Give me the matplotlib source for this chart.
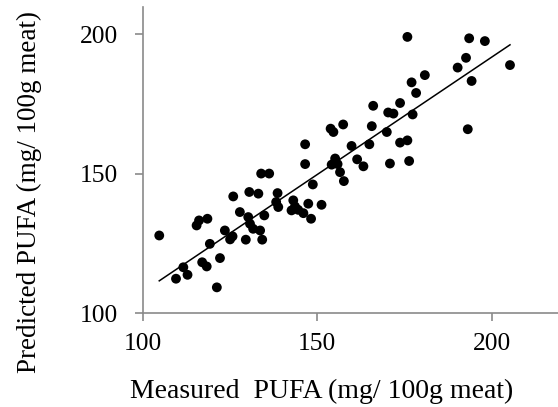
import matplotlib
matplotlib.use("Agg")
import matplotlib.pyplot as plt
import numpy as np

# measured vs predicted PUFA (mg/100g meat)
measured = [104.8, 109.6, 111.7, 112.9, 115.5, 116.2, 117.1, 118.4, 118.6, 119.3,
            121.3, 122.2, 123.6, 125.1, 125.8, 126.0, 127.9, 129.6, 130.3, 130.6,
            130.8, 131.7, 133.2, 133.7, 134.0, 134.3, 134.9, 136.3, 138.7, 138.3,
            138.9, 142.7, 143.2, 143.7, 144.6, 146.1, 146.6, 146.6, 147.5, 148.3,
            148.8, 151.3, 153.9, 154.7, 154.2, 155.2, 155.9, 156.6, 157.7, 157.5,
            159.9, 161.5, 163.3, 165.0, 165.7, 166.1, 170.0, 170.4, 170.9, 171.9,
            173.8, 173.8, 175.9, 175.9, 176.4, 177.1, 177.4, 178.4, 180.9, 190.3,
            192.7, 193.2, 193.6, 194.3, 198.1, 205.3]
predicted = [127.9, 112.4, 116.5, 113.8, 131.5, 133.3, 118.3, 116.8, 133.9, 124.9,
             109.3, 119.8, 129.7, 126.5, 127.6, 141.9, 136.3, 126.4, 134.5, 143.5,
             132.1, 130.3, 142.9, 129.7, 150.1, 126.4, 135.1, 150.1, 143.1, 139.9,
             138.1, 136.9, 140.5, 138.3, 137.1, 135.9, 153.5, 160.6, 139.3, 133.9,
             146.2, 138.9, 166.2, 165.0, 153.3, 155.5, 153.5, 150.6, 147.4, 167.7,
             160.0, 155.2, 152.7, 160.6, 167.1, 174.4, 165.0, 172.0, 153.7, 171.6,
             175.4, 161.2, 162.0, 199.1, 154.6, 182.8, 171.3, 179.0, 185.4, 188.1,
             191.6, 166.0, 198.6, 183.3, 197.6, 189.0]

# regression line as drawn
slope = 0.842
intercept = 23.4
x_line = [104.8, 205.3]

plt.rcParams['font.family'] = ['Liberation Serif', 'DejaVu Serif']

W, H = 558, 407
fig = plt.figure(figsize=(W / 100, H / 100), dpi=100)
ax = fig.add_axes([142.5 / W, 1 - 313.3 / H, 418.8 / W, 306.8 / H])

ax.scatter(measured, predicted, s=50, color='black', edgecolors='none', zorder=3)
xl = np.array(x_line)
ax.plot(xl, slope * xl + intercept, color='black', lw=1.1, zorder=2)

ax.set_xlim(100, 220)
ax.set_ylim(100, 210)
ax.set_xticks([100, 150, 200])
ax.set_yticks([100, 150, 200])

for s in ['top', 'right']:
    ax.spines[s].set_visible(False)
for s in ['left', 'bottom']:
    ax.spines[s].set_color('#8a8a8a')
    ax.spines[s].set_linewidth(1.2)
ax.tick_params(direction='out', length=5.8, width=1.2, color='#8a8a8a',
               labelsize=18.4)
ax.tick_params(axis='y', pad=11.5)
ax.tick_params(axis='x', pad=8.6)

ax.set_xlabel('Measured  PUFA (mg/ 100g meat)', fontsize=20, va='baseline')
ax.xaxis.set_label_coords(322 / W, 1 - 398 / H, transform=fig.transFigure)
ax.set_ylabel('Predicted PUFA (mg/ 100g meat)', fontsize=19.5, va='center')
ax.yaxis.set_label_coords(29 / W, 1 - 192 / H, transform=fig.transFigure)

fig.savefig('out.png', dpi=100)
